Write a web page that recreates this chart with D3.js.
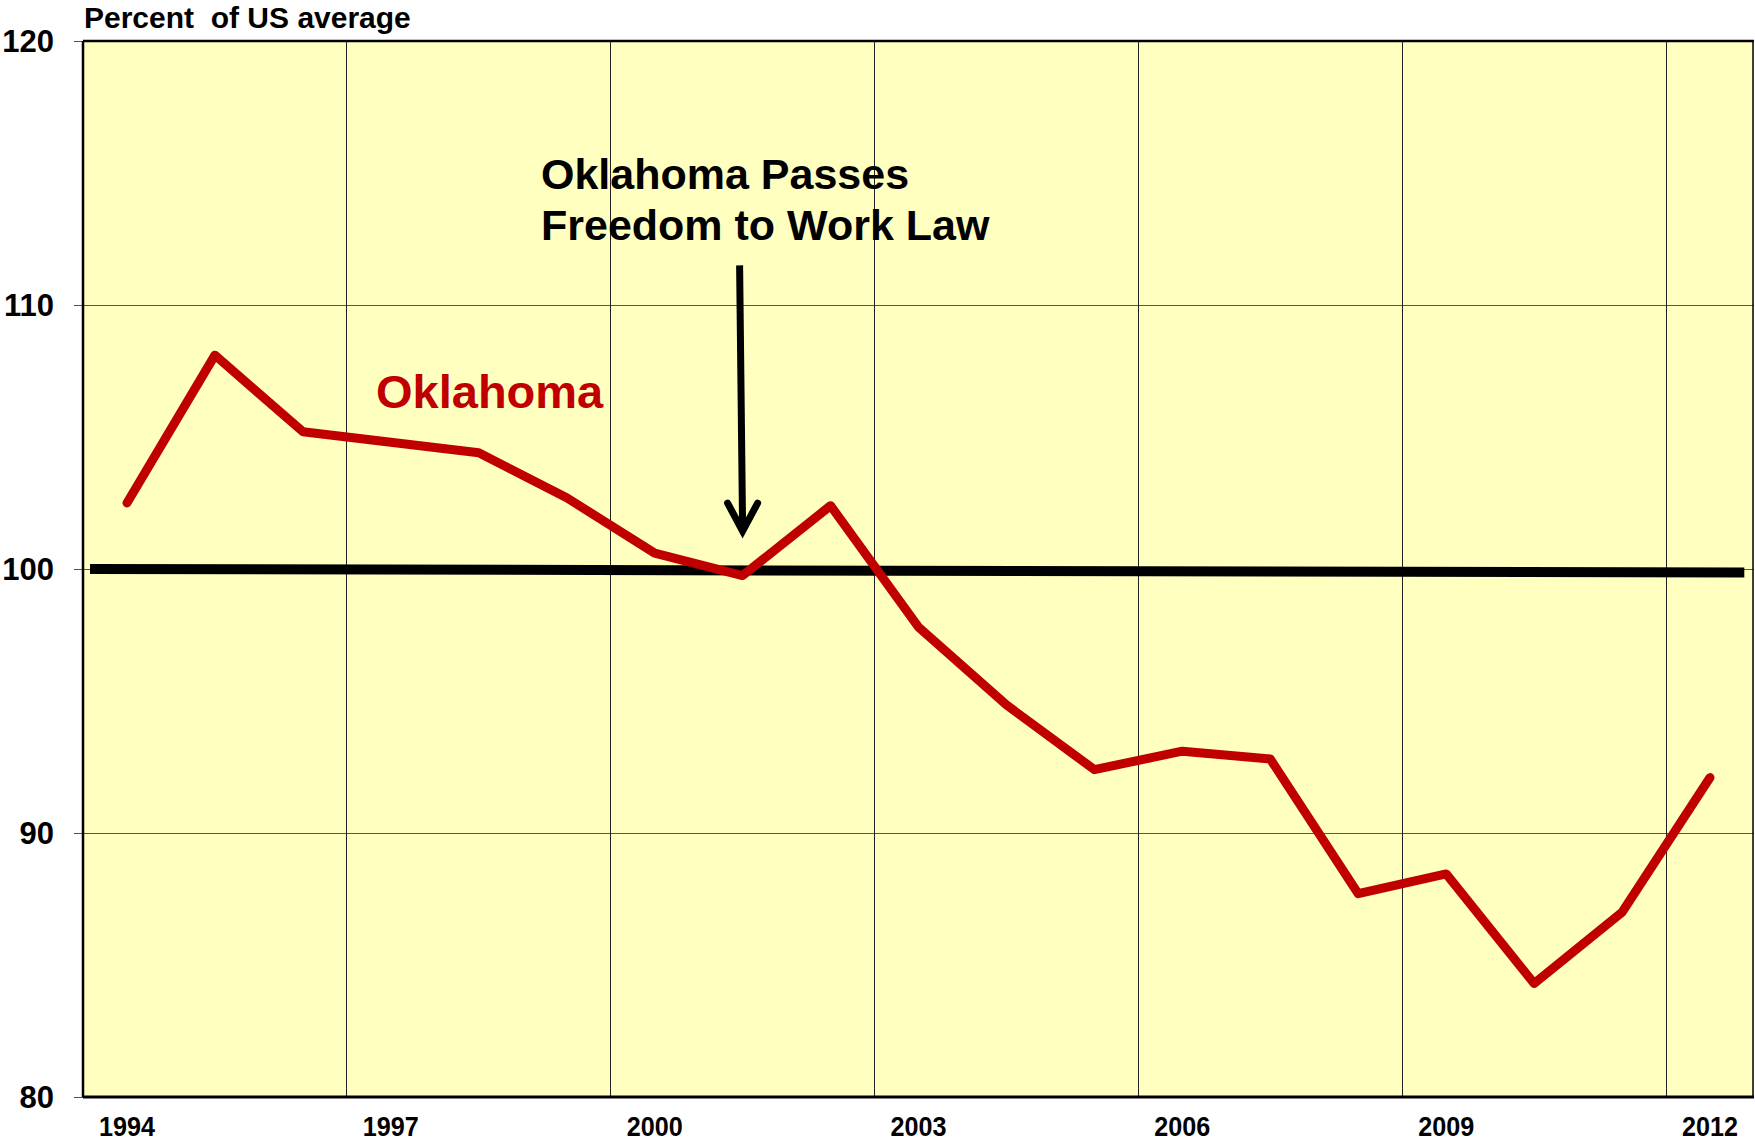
<!DOCTYPE html>
<html lang="en">
<head>
    <meta charset="UTF-8">
    <title>Oklahoma vs US average</title>
    <script src="https://cdn.jsdelivr.net/npm/d3@7"></script>
    <style>
        body{ margin:0; background:#fff; }
        text{ font-family: "Liberation Sans", Arial, sans-serif; font-weight: bold; }
        .grid{ stroke:#555; stroke-width:1; shape-rendering:crispEdges; }
        .vgrid{ stroke:#222; stroke-width:1; shape-rendering:crispEdges; }
    </style>
</head>
<body>
<svg width="1755" height="1144"></svg>
<script>
    // values
    const years = d3.range(1994, 2013);
    const oklahoma = [102.5, 108.1, 105.2, 104.8, 104.4, 102.7, 100.6, 99.75, 102.4, 97.8,
                      94.85, 92.4, 93.1, 92.8, 87.7, 88.45, 84.3, 87.0, 92.1];
    // US average line, drawn a touch off level in the original
    const usYears = [1993.58, 2012.39];
    const usAvg = [100.0, 99.87];
    const yTicks = [80, 90, 100, 110, 120];
    const xLabels = [1994, 1997, 2000, 2003, 2006, 2009, 2012];
    const xGrid = [1996.5, 1999.5, 2002.5, 2005.5, 2008.5, 2011.5];

    const svg = d3.select("svg");
    const x = d3.scaleLinear().domain([1993.5, 2012.5]).range([83, 1754]);
    const y = d3.scaleLinear().domain([80, 120]).range([1097, 41]);

    // plot background
    svg.append("rect")
        .attr("x", x(1993.5)).attr("y", y(120))
        .attr("width", x(2012.5) - x(1993.5)).attr("height", y(80) - y(120))
        .attr("fill", "#ffffc0");

    // horizontal grid + little ticks out to the left
    svg.selectAll(".grid").data(yTicks).enter().append("line")
        .attr("class", "grid")
        .attr("x1", x(1993.5) - 9).attr("x2", x(2012.5))
        .attr("y1", d => y(d)).attr("y2", d => y(d));

    svg.selectAll(".vgrid").data(xGrid).enter().append("line")
        .attr("class", "vgrid")
        .attr("x1", d => x(d)).attr("x2", d => x(d))
        .attr("y1", y(120)).attr("y2", y(80));

    // frame
    const frame = svg.append("g").attr("stroke", "#000").attr("fill", "none");
    frame.append("line").attr("x1", x(1993.5)).attr("x2", x(2012.5)).attr("y1", y(120)).attr("y2", y(120)).attr("stroke-width", 2.5);
    frame.append("line").attr("x1", x(1993.5)).attr("x2", x(2012.5)).attr("y1", y(80)).attr("y2", y(80)).attr("stroke-width", 3);
    frame.append("line").attr("x1", x(1993.5)).attr("x2", x(1993.5)).attr("y1", y(120)).attr("y2", y(80)).attr("stroke-width", 2.5);
    frame.append("line").attr("x1", x(2012.5) - 1).attr("x2", x(2012.5) - 1).attr("y1", y(120)).attr("y2", y(80)).attr("stroke-width", 1.5);

    // y labels
    svg.selectAll(".ylab").data(yTicks).enter().append("text")
        .attr("x", 54).attr("y", d => y(d))
        .attr("dy", "0.36em")
        .attr("text-anchor", "end")
        .attr("font-size", 31)
        .text(d => d);

    // x labels (narrow in the original)
    svg.selectAll(".xlab").data(xLabels).enter().append("text")
        .attr("x", d => x(d) - 28).attr("y", 1136)
        .attr("font-size", 28)
        .attr("textLength", 56)
        .attr("lengthAdjust", "spacingAndGlyphs")
        .text(d => d);

    svg.append("text")
        .attr("x", 84).attr("y", 28)
        .attr("font-size", 30)
        .attr("xml:space", "preserve")
        .style("white-space", "pre")
        .text("Percent  of US average");

    // US average line
    const usLine = d3.line().x((d, i) => x(usYears[i])).y(d => y(d));
    svg.append("path")
        .attr("d", usLine(usAvg))
        .attr("fill", "none")
        .attr("stroke", "#000")
        .attr("stroke-width", 10);

    // Oklahoma
    const okLine = d3.line().x((d, i) => x(years[i])).y(d => y(d));
    svg.append("path")
        .attr("d", okLine(oklahoma))
        .attr("fill", "none")
        .attr("stroke", "#c00000")
        .attr("stroke-width", 9)
        .attr("stroke-linejoin", "round")
        .attr("stroke-linecap", "round");

    svg.append("text")
        .attr("x", 376).attr("y", 408)
        .attr("font-size", 47)
        .attr("fill", "#c00000")
        .text("Oklahoma");

    // annotation
    const note = svg.append("text").attr("font-size", 43).attr("fill", "#000");
    note.append("tspan").attr("x", 541).attr("y", 189).text("Oklahoma Passes");
    note.append("tspan").attr("x", 541).attr("y", 240).text("Freedom to Work Law");

    const tipX = x(2001), tipY = y(101.36), topY = y(111.5);
    const arrow = svg.append("g").attr("stroke", "#000").attr("stroke-width", 7).attr("fill", "none");
    arrow.append("line").attr("x1", tipX - 3).attr("y1", topY).attr("x2", tipX).attr("y2", tipY - 4);
    arrow.append("path")
        .attr("d", `M${tipX - 15},${tipY - 30}L${tipX},${tipY - 2}L${tipX + 15},${tipY - 30}`)
        .attr("stroke-linecap", "round")
        .attr("stroke-linejoin", "miter");
</script>
</body>
</html>
